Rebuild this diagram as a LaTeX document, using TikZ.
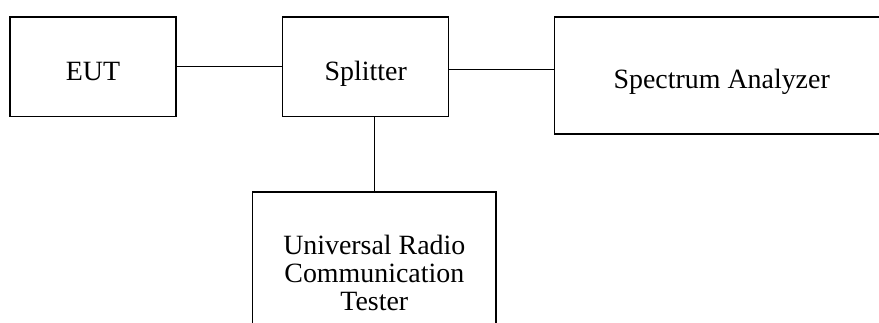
\documentclass[tikz,border=0pt]{standalone}
\usepackage{fontspec}
\setmainfont{Liberation Serif}
\begin{document}
\begin{tikzpicture}[x=1pt,y=-1pt,
  blk/.style={draw,line width=1.3pt,inner sep=0pt,align=center,
    font=\fontsize{27.9}{28}\selectfont},
  one/.style={text height=26.4pt,text depth=0pt},
  conn/.style={line width=1.3pt}]
\useasboundingbox (0,0) rectangle (879,322);
\clip (0,0) rectangle (879,322);
\node[blk,one,minimum width=166pt,minimum height=99.5pt] (eut) at (93,66.8) {EUT};
\node[blk,one,minimum width=166pt,minimum height=99.5pt] (spl) at (365.7,66.8) {Splitter};
\node[blk,one,minimum width=335pt,minimum height=117pt] (sa) at (721.7,75.5) {Spectrum Analyzer};
\node[blk,minimum width=243.3pt,minimum height=162pt] (urct) at (374.3,273) {Universal Radio\\Communication\\Tester};
\draw[conn] (eut.east) -- (spl.west);
\draw[conn] ([yshift=-2.5pt]spl.east) -- ([yshift=-2.5pt]spl.east -| sa.west);
\draw[conn] (urct.north |- spl.south) -- (urct.north);
\end{tikzpicture}
\end{document}
